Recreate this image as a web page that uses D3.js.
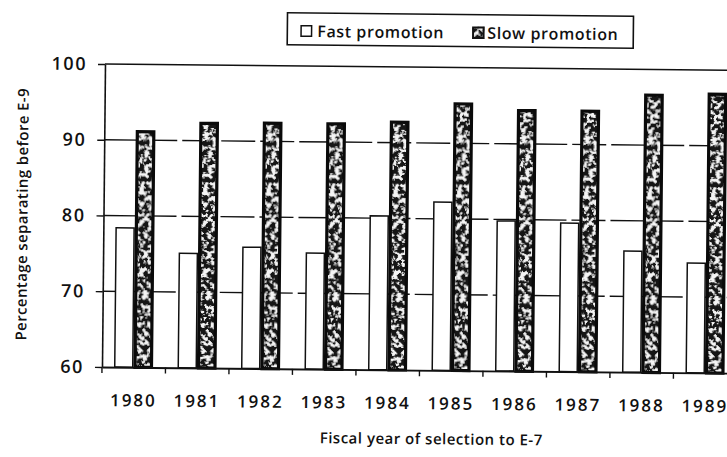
<!DOCTYPE html>
<html>
<head>
<meta charset="utf-8">
<script src="https://cdn.jsdelivr.net/npm/d3@7"></script>
<style>
  body { margin: 0; background: #fff; }
  svg { display: block; }
  text { font-family: "Open Sans", sans-serif; fill: #111; }
</style>
</head>
<body>
<svg id="chart" width="727" height="457"></svg>
<script>
// data
const years      = ["1980", "1981", "1982", "1983", "1984", "1985", "1986", "1987", "1988", "1989"];
const fastValues = [78.4, 75.1, 76.0, 75.3, 80.3, 82.2, 79.8, 79.6, 76.0, 74.5];
const slowValues = [91.3, 92.5, 92.6, 92.6, 92.9, 95.4, 94.6, 94.6, 96.8, 97.0];
const yTicks     = [60, 70, 80, 90, 100];
const seriesKeys = ["fast", "slow"];
const seriesNames = ["Fast promotion", "Slow promotion"];

const svg = d3.select("#chart");

// speckled texture for the dark bars
const defs = svg.append("defs");
const f = defs.append("filter").attr("id", "speckle")
  .attr("x", 0).attr("y", 0).attr("width", 1).attr("height", 1);
f.append("feTurbulence").attr("type", "fractalNoise").attr("baseFrequency", 0.22)
  .attr("numOctaves", 3).attr("seed", 7).attr("result", "n");
f.append("feColorMatrix").attr("in", "n").attr("type", "matrix")
  .attr("values", "0 0 0 0 0.9  0 0 0 0 0.9  0 0 0 0 0.9  10 0 0 0 -5.0").attr("result", "spots");
f.append("feComposite").attr("in", "spots").attr("in2", "SourceGraphic")
  .attr("operator", "in").attr("result", "clip");
const fm = f.append("feMerge");
fm.append("feMergeNode").attr("in", "SourceGraphic");
fm.append("feMergeNode").attr("in", "clip");

// the scan is tilted a little, keep that
const g = svg.append("g").attr("transform", "rotate(0.57,105,64)");

const x = d3.scaleBand().domain(years).range([105, 740]);
const xSub = d3.scaleBand().domain(seriesKeys).range([12, 51]);
const y = d3.scaleLinear().domain([60, 100]).range([367, 64]);

// gridlines
g.append("g")
  .selectAll("line")
  .data(yTicks.filter(d => d > 60 && d < 100))
  .join("line")
    .attr("x1", 105).attr("x2", 740)
    .attr("y1", d => y(d)).attr("y2", d => y(d))
    .attr("stroke", "#111").attr("stroke-width", 1.4)
    .attr("stroke-dasharray", "34 5");

// top frame
g.append("line")
  .attr("x1", 105).attr("x2", 740)
  .attr("y1", y(100)).attr("y2", y(100))
  .attr("stroke", "#111").attr("stroke-width", 1.5);

// bars
const rows = years.map((yr, i) => ({ yr, fast: fastValues[i], slow: slowValues[i] }));
const grp = g.append("g").selectAll("g").data(rows).join("g")
  .attr("transform", d => `translate(${x(d.yr)},0)`);

grp.append("rect")
  .attr("x", xSub("fast") + 0.75)
  .attr("y", d => y(d.fast))
  .attr("width", xSub.bandwidth() - 1.5)
  .attr("height", d => y(60) - y(d.fast))
  .attr("fill", "#fff").attr("stroke", "#111").attr("stroke-width", 1.5);

grp.append("rect")
  .attr("x", xSub("slow") + 1.5)
  .attr("y", d => y(d.slow) + 1.5)
  .attr("width", xSub.bandwidth() - 3)
  .attr("height", d => y(60) - y(d.slow) - 1.5)
  .attr("fill", "#151515")
  .attr("filter", "url(#speckle)");

grp.append("rect")
  .attr("x", xSub("slow") + 1.5)
  .attr("y", d => y(d.slow) + 1.5)
  .attr("width", xSub.bandwidth() - 3)
  .attr("height", d => y(60) - y(d.slow) - 1.5)
  .attr("fill", "none").attr("stroke", "#0a0a0a").attr("stroke-width", 3.2);

// y axis
const yAxis = g.append("g")
  .attr("transform", "translate(105,0)")
  .call(d3.axisLeft(y).tickValues(yTicks).tickSize(7).tickSizeOuter(0).tickPadding(11));
yAxis.select(".domain").attr("stroke", "#111").attr("stroke-width", 1.6);
yAxis.selectAll(".tick line").attr("stroke", "#111").attr("stroke-width", 1.4);
yAxis.selectAll("text").style("font-size", "18px").style("letter-spacing", "1.5px")
  .style("font-weight", 600)
  .style("font-family", "'Open Sans', sans-serif").attr("fill", "#111");

// x axis
const xAxis = g.append("g")
  .attr("transform", `translate(0,${y(60)})`)
  .call(d3.axisBottom(x).tickSize(0).tickPadding(27));
xAxis.select(".domain").attr("stroke", "#111").attr("stroke-width", 1.8);
xAxis.selectAll("text").style("font-size", "17px").style("letter-spacing", "2px")
  .style("font-weight", 600)
  .style("font-family", "'Open Sans', sans-serif").attr("fill", "#111");

// tick marks sit between the years
g.append("g").selectAll("line")
  .data([x.range()[0], ...years.slice(1).map(d => x(d))])
  .join("line")
    .attr("x1", d => d).attr("x2", d => d)
    .attr("y1", y(60)).attr("y2", y(60) + 6)
    .attr("stroke", "#111").attr("stroke-width", 1.4);

// axis titles
g.append("text")
  .attr("x", 435).attr("y", 441)
  .attr("text-anchor", "middle")
  .style("font-size", "15px").style("letter-spacing", "0.5px").style("font-weight", 600)
  .text("Fiscal year of selection to E-7");

g.append("text")
  .attr("transform", "translate(29,215) rotate(-90)")
  .attr("text-anchor", "middle")
  .style("font-size", "15px").style("letter-spacing", "0.4px").style("font-weight", 600)
  .text("Percentage separating before E-9");

// legend
const leg = g.append("g");
leg.append("rect")
  .attr("x", 287).attr("y", 11).attr("width", 346).attr("height", 32)
  .attr("fill", "#fff").attr("stroke", "#111").attr("stroke-width", 1.6);

const legX = [300, 472];
const li = leg.selectAll("g.item").data(seriesNames).join("g").attr("class", "item")
  .attr("transform", (d, i) => `translate(${legX[i]},23)`);
li.filter((d, i) => i === 1).append("rect")
  .attr("x", 0).attr("y", 0).attr("width", 12).attr("height", 12)
  .attr("fill", "#151515").attr("filter", "url(#speckle)");
li.append("rect")
  .attr("x", 0.75).attr("y", 0.75).attr("width", 10.5).attr("height", 10.5)
  .attr("fill", (d, i) => i ? "none" : "#fff")
  .attr("stroke", "#111").attr("stroke-width", (d, i) => i ? 2 : 1.5);
li.append("text")
  .attr("x", (d, i) => i ? 15 : 17).attr("y", 12)
  .style("font-size", "16px").style("letter-spacing", "0.6px").style("font-weight", 600)
  .text(d => d);
</script>
</body>
</html>
